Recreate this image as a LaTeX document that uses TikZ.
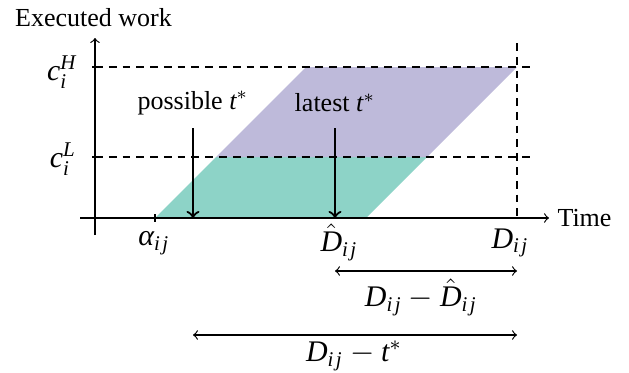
\documentclass[tikz,border=0pt]{standalone}
\usepackage{fontspec}
\setmainfont{Liberation Serif}
\newcommand\mi[1]{\mathit{#1}}
\newcommand\ijs{\mi{i}\mkern2mu\mi{j}}
\definecolor{setpurple}{HTML}{BEBADA}
\definecolor{setgreen}{HTML}{8DD3C7}
\tikzset{
  axisline/.style={line width=0.45pt,->},
  guide/.style={line width=0.45pt,dash pattern=on 3pt off 2.3pt},
  tstar/.style={line width=0.85pt,->},
  span/.style={line width=0.45pt,<->},
  lbl/.style={inner sep=0pt},
  mlbl/.style={inner sep=0pt,font=\fontsize{11.5}{14}\selectfont},
}
\begin{document}
\begin{tikzpicture}[x=0.3846pt,y=-0.3846pt,font=\fontsize{10}{12}\selectfont]
\useasboundingbox (0,0) rectangle (629,373);
% regions
\fill[setgreen] (155,218) -- (216,157) -- (427,157) -- (366,218) -- cycle;
\fill[setpurple] (216,157) -- (306,67) -- (517,67) -- (427,157) -- cycle;
% guides
\coordinate (hL) at (95,67);  \coordinate (hR) at (533,67);
\coordinate (lL) at (95,157); \coordinate (lR) at (533,157);
\coordinate (dT) at (517,43); \coordinate (dB) at (517,222);
\draw[guide] (hL) -- (hR);
\draw[guide] (lL) -- (lR);
\draw[guide] (dT) -- (dB);
% axes
\coordinate (xs) at (80,218); \coordinate (xe) at (549,218);
\coordinate (ys) at (95,235); \coordinate (ye) at (95,38);
\draw[axisline] (xs) -- (xe);
\draw[axisline] (ys) -- (ye);
\coordinate (ta1) at (155,214); \coordinate (ta2) at (155,222);
\draw[line width=0.45pt] (ta1) -- (ta2);
\coordinate (th1) at (92,67); \coordinate (th2) at (98,67);
\coordinate (tl1) at (92,157); \coordinate (tl2) at (98,157);
\draw[line width=0.45pt] (th1) -- (th2) (tl1) -- (tl2);
% labels
\node[lbl] (ew) at (93.5,18) {Executed work};
\node[lbl,anchor=west] (time) at (557,218) {Time};
\node[mlbl] (cH) at (62,72) {$\mi{c}_{\mi{i}}^{\mi{H}}$};
\node[mlbl] (cL) at (63,159) {$\mi{c}_{\mi{i}}^{\mi{L}}$};
\node[mlbl] (al) at (154,243) {$\mbox{\itshape α}_{\ijs}$};
\node[mlbl] (Dh) at (339,242) {$\hat{\mi{D}}_{\ijs}$};
\node[mlbl] (D) at (510,243) {$\mi{D}_{\ijs}$};
% t* arrows
\node[lbl] (pos) at (193,103) {possible $\mi{t}^{*}$};
\node[lbl] (lat) at (335,103) {latest $\mi{t}^{*}$};
\coordinate (p1) at (193,128); \coordinate (p2) at (193,218);
\coordinate (l1) at (335,128); \coordinate (l2) at (335,218);
\draw[tstar] (p1) -- (p2);
\draw[tstar] (l1) -- (l2);
% spans
\coordinate (s1a) at (335,271); \coordinate (s1b) at (517,271);
\coordinate (s2a) at (193,335); \coordinate (s2b) at (517,335);
\draw[span] (s1a) -- (s1b);
\draw[span] (s2a) -- (s2b);
\node[mlbl] (d1) at (421,297) {$\mi{D}_{\ijs}-\hat{\mi{D}}_{\ijs}$};
\node[mlbl] (d2) at (354,356) {$\mi{D}_{\ijs}-\mi{t}^{*}$};
\end{tikzpicture}
\end{document}
